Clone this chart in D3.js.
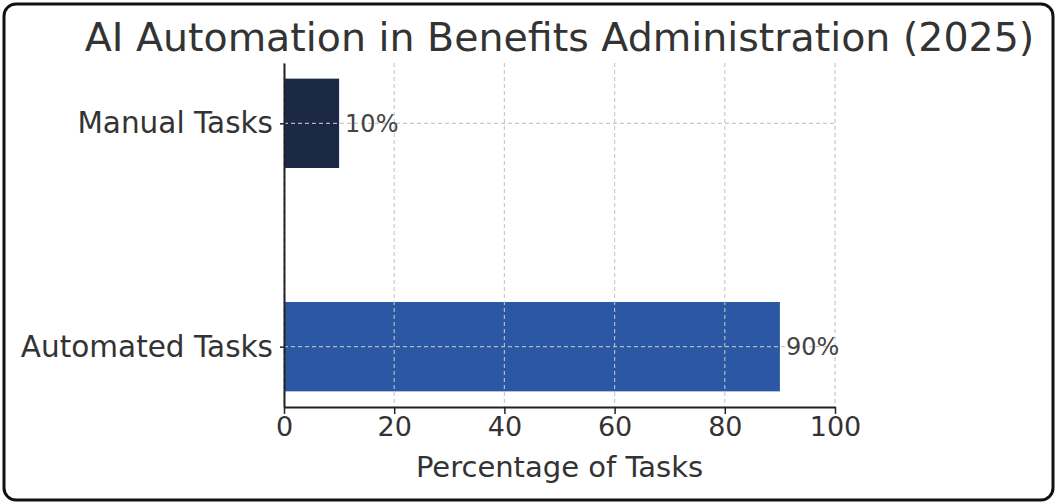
<!DOCTYPE html>
<html>
<head>
<meta charset="utf-8">
<script src="https://cdn.jsdelivr.net/npm/d3@7"></script>
<style>
  html, body { margin: 0; padding: 0; background: #fff; }
  svg { display: block; font-family: "DejaVu Sans", sans-serif; }
</style>
</head>
<body>
<div id="chart"></div>
<script>
// Chart data
const categories = ['Automated Tasks', 'Manual Tasks'];
const values = [90, 10];
const barColors = ['#2b57a5', '#1b2946'];
const xTicks = [0, 20, 40, 60, 80, 100];
const title = 'AI Automation in Benefits Administration (2025)';
const xLabel = 'Percentage of Tasks';

const width = 1057, height = 504;
const plot = { left: 284, right: 835, top: 63, bottom: 407 };

const svg = d3.select('#chart').append('svg')
  .attr('width', width)
  .attr('height', height);

svg.append('rect')
  .attr('width', width).attr('height', height)
  .attr('fill', '#fff');

// outer rounded frame
svg.append('rect')
  .attr('x', 4).attr('y', 4)
  .attr('width', width - 8).attr('height', height - 8)
  .attr('rx', 12)
  .attr('fill', 'none')
  .attr('stroke', '#111')
  .attr('stroke-width', 3);

const x = d3.scaleLinear().domain([0, 100]).range([plot.left, plot.right]);
// category positions: index 0 bottom, 1 top, bars +-0.2, 5% margins
const y = d3.scaleLinear().domain([-0.27, 1.27]).range([plot.bottom, plot.top]);
const barHalf = 0.2;

// bars
svg.append('g').selectAll('rect')
  .data(values)
  .join('rect')
  .attr('x', x(0))
  .attr('y', (d, i) => y(i + barHalf))
  .attr('width', d => x(d) - x(0))
  .attr('height', (d, i) => y(i - barHalf) - y(i + barHalf))
  .attr('fill', (d, i) => barColors[i]);

// grid (drawn over bars)
const grid = svg.append('g')
  .attr('stroke', '#c4c4c4')
  .attr('stroke-width', 1.2)
  .attr('stroke-dasharray', '4,3')
  .attr('opacity', 0.9);
grid.selectAll('line.v')
  .data(xTicks)
  .join('line')
  .attr('class', 'v')
  .attr('x1', d => x(d)).attr('x2', d => x(d))
  .attr('y1', plot.top).attr('y2', plot.bottom);
grid.selectAll('line.h')
  .data(categories)
  .join('line')
  .attr('class', 'h')
  .attr('x1', plot.left).attr('x2', plot.right)
  .attr('y1', (d, i) => y(i)).attr('y2', (d, i) => y(i));

// x axis
const xAxis = svg.append('g')
  .attr('transform', `translate(0,${plot.bottom})`)
  .call(d3.axisBottom(x).tickValues(xTicks).tickSize(7).tickPadding(3).tickSizeOuter(0));
xAxis.select('.domain').attr('stroke', '#222').attr('stroke-width', 2);
xAxis.selectAll('.tick line').attr('stroke', '#222').attr('stroke-width', 1.5);
xAxis.selectAll('.tick text')
  .attr('fill', '#333')
  .style('font-size', '27px')
  .style('font-family', '"DejaVu Sans", sans-serif');

// y axis
const yAxis = svg.append('g')
  .attr('transform', `translate(${plot.left},0)`)
  .call(d3.axisLeft(y).tickValues([0, 1]).tickFormat(i => categories[i]).tickSize(4).tickPadding(7).tickSizeOuter(0));
yAxis.select('.domain').attr('stroke', '#222').attr('stroke-width', 2);
yAxis.selectAll('.tick line').attr('stroke', '#222').attr('stroke-width', 1.5);
yAxis.selectAll('.tick text')
  .attr('fill', '#333')
  .style('font-size', '29.5px')
  .style('font-family', '"DejaVu Sans", sans-serif');

// value labels
svg.append('g').selectAll('text')
  .data(values)
  .join('text')
  .attr('x', d => x(d) + 6)
  .attr('y', (d, i) => y(i))
  .attr('dy', '0.35em')
  .attr('fill', '#444')
  .style('font-size', '24px')
  .text(d => d + '%');

// title
svg.append('text')
  .attr('x', (plot.left + plot.right) / 2)
  .attr('y', 51)
  .attr('text-anchor', 'middle')
  .attr('fill', '#333')
  .style('font-size', '39.5px')
  .text(title);

// x label
svg.append('text')
  .attr('x', (plot.left + plot.right) / 2)
  .attr('y', 477)
  .attr('text-anchor', 'middle')
  .attr('fill', '#333')
  .style('font-size', '29px')
  .text(xLabel);
</script>
</body>
</html>
